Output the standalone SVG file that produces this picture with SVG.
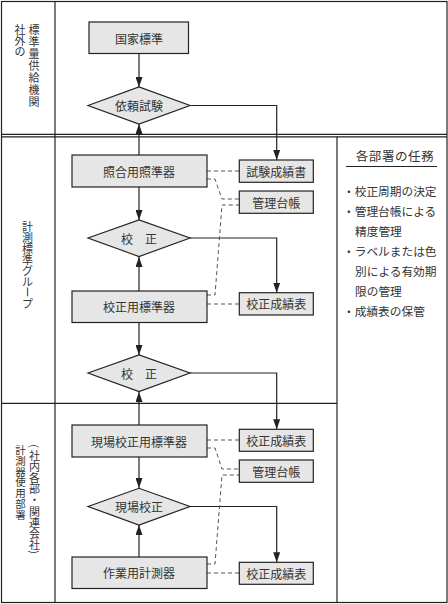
<svg xmlns="http://www.w3.org/2000/svg" width="448" height="604" viewBox="0 0 448 604">
<style>
text{font-family:"Noto Sans CJK JP","Noto Sans CJK SC",sans-serif;fill:#333;}
.frame{fill:none;stroke:#222;stroke-width:1.2;}
.box{fill:#e6e6e6;stroke:#222;stroke-width:1.2;}
.lbl{font-size:12px;text-anchor:middle;dominant-baseline:central;}
.side{font-size:11px;text-anchor:middle;dominant-baseline:central;}
.note{font-size:11.7px;dominant-baseline:central;}
.flow{fill:none;stroke:#222;stroke-width:1.2;}
.dash{fill:none;stroke:#555;stroke-width:1;stroke-dasharray:4 3;}
</style>
<defs>
<marker id="ah" markerUnits="userSpaceOnUse" markerWidth="10" markerHeight="7" refX="10" refY="3.5" orient="auto">
<path d="M0,0 L10,3.5 L0,7 z" fill="#222"/>
</marker>
</defs>
<g id="frame">
<rect class="frame" x="1.5" y="1.5" width="445.5" height="601"/>
<line class="frame" x1="55" y1="1.5" x2="55" y2="602.5"/>
<line class="frame" x1="1.5" y1="134.3" x2="447" y2="134.3"/>
<line class="frame" x1="1.5" y1="136.8" x2="447" y2="136.8"/>
<line class="frame" x1="1.5" y1="403.3" x2="337" y2="403.3"/>
<line class="frame" x1="337" y1="136.8" x2="337" y2="602.5"/>
</g>
<g id="lane-labels">
<text class="side"><tspan x="20" y="28.9">社</tspan><tspan x="20" y="40">外</tspan><tspan x="20" y="51.1">の</tspan></text>
<text class="side"><tspan x="34" y="29.3">標</tspan><tspan x="34" y="41.2">準</tspan><tspan x="34" y="53.1">量</tspan><tspan x="34" y="65">供</tspan><tspan x="34" y="76.9">給</tspan><tspan x="34" y="88.8">機</tspan><tspan x="34" y="100.7">関</tspan></text>
<text class="side"><tspan x="27.5" y="225.5">計</tspan><tspan x="27.5" y="236.6">測</tspan><tspan x="27.5" y="247.7">標</tspan><tspan x="27.5" y="258.8">準</tspan><tspan x="27.5" y="269.9">グ</tspan><tspan x="27.5" y="281">ル</tspan></text>
<text class="side" x="27.5" y="292.1" transform="rotate(90 27.5 292.1)">ー</text>
<text class="side"><tspan x="27.5" y="303.2">プ</tspan></text>
<text class="side" style="font-size:10.5px"><tspan x="20.5" y="449.3">計</tspan><tspan x="20.5" y="460">測</tspan><tspan x="20.5" y="470.7">器</tspan><tspan x="20.5" y="481.4">使</tspan><tspan x="20.5" y="492.1">用</tspan><tspan x="20.5" y="502.8">部</tspan><tspan x="20.5" y="513.5">署</tspan></text>
<text class="side" x="34.5" y="446" transform="rotate(90 34.5 446)">(</text>
<text class="side"><tspan x="34.5" y="454.6">社</tspan><tspan x="34.5" y="465.8">内</tspan><tspan x="34.5" y="477">各</tspan><tspan x="34.5" y="488.2">部</tspan><tspan x="34.5" y="499.4">・</tspan><tspan x="34.5" y="510.6">関</tspan><tspan x="34.5" y="521.8">連</tspan><tspan x="34.5" y="533">会</tspan><tspan x="34.5" y="544.2">社</tspan></text>
<text class="side" x="34.5" y="552" transform="rotate(90 34.5 552)">)</text>
</g>
<g id="connectors">
<line class="flow" x1="139" y1="54" x2="139" y2="87" marker-end="url(#ah)"/>
<line class="flow" x1="139" y1="155" x2="139" y2="124" marker-end="url(#ah)"/>
<path class="flow" d="M190,105.5 H276.7 V160" marker-end="url(#ah)"/>
<line class="flow" x1="139" y1="187" x2="139" y2="220" marker-end="url(#ah)"/>
<line class="flow" x1="139" y1="291" x2="139" y2="257" marker-end="url(#ah)"/>
<path class="flow" d="M190,238 H276.7 V292.7" marker-end="url(#ah)"/>
<line class="flow" x1="139" y1="322" x2="139" y2="355" marker-end="url(#ah)"/>
<line class="flow" x1="139" y1="425" x2="139" y2="392" marker-end="url(#ah)"/>
<path class="flow" d="M190,373 H276.7 V429.3" marker-end="url(#ah)"/>
<line class="flow" x1="139" y1="457" x2="139" y2="488" marker-end="url(#ah)"/>
<line class="flow" x1="139" y1="557" x2="139" y2="525" marker-end="url(#ah)"/>
<path class="flow" d="M190,506.5 H276.7 V562.3" marker-end="url(#ah)"/>
<path class="dash" d="M207,171 H239"/>
<path class="dash" d="M207,179 H215 L222,199 H239"/>
<path class="dash" d="M207,295 H215 L222,205 H239"/>
<path class="dash" d="M207,304 H239"/>
<path class="dash" d="M207,440 H239"/>
<path class="dash" d="M207,448 H215 L222,469 H239"/>
<path class="dash" d="M207,564 H215 L222,475 H239"/>
<path class="dash" d="M207,573 H239"/>
</g>
<g id="n-kokka">
<rect class="box" x="89" y="22" width="99.5" height="31.5"/>
<text class="lbl" x="139" y="38">国家標準</text>
</g>
<g id="n-irai">
<polygon class="box" points="88,105.5 139,87 190,105.5 139,124"/>
<text class="lbl" x="139" y="105.5">依頼試験</text>
</g>
<g id="n-shogo">
<rect class="box" x="72" y="155" width="135" height="32"/>
<text class="lbl" x="139" y="171">照合用照準器</text>
</g>
<g id="n-kosei1">
<polygon class="box" points="88,238 139,220 190,238 139,256.5"/>
<text class="lbl" x="139" y="238">校　正</text>
</g>
<g id="n-koseiyo">
<rect class="box" x="72" y="291" width="135" height="31.5"/>
<text class="lbl" x="139" y="306.5">校正用標準器</text>
</g>
<g id="n-kosei2">
<polygon class="box" points="88,373 139,355 190,373 139,391.5"/>
<text class="lbl" x="139" y="373">校　正</text>
</g>
<g id="n-genba-std">
<rect class="box" x="72" y="425" width="135" height="32"/>
<text class="lbl" x="139" y="441">現場校正用標準器</text>
</g>
<g id="n-genba-kosei">
<polygon class="box" points="88,506.5 139,488.3 190,506.5 139,525"/>
<text class="lbl" x="139" y="506.5">現場校正</text>
</g>
<g id="n-sagyo">
<rect class="box" x="72" y="557" width="135" height="31.5"/>
<text class="lbl" x="139" y="572.5">作業用計測器</text>
</g>
<g id="r-shiken">
<rect class="box" x="239.3" y="160" width="74" height="22.3"/>
<text class="lbl" x="276.3" y="171.2">試験成績書</text>
</g>
<g id="r-daicho1">
<rect class="box" x="239.3" y="191" width="74" height="22.3"/>
<text class="lbl" x="276.3" y="202.2">管理台帳</text>
</g>
<g id="r-seiseki1">
<rect class="box" x="239.3" y="292.7" width="74" height="22.3"/>
<text class="lbl" x="276.3" y="303.9">校正成績表</text>
</g>
<g id="r-seiseki2">
<rect class="box" x="239.3" y="429.3" width="74" height="22"/>
<text class="lbl" x="276.3" y="440.3">校正成績表</text>
</g>
<g id="r-daicho2">
<rect class="box" x="239.3" y="460" width="74" height="22.3"/>
<text class="lbl" x="276.3" y="471.2">管理台帳</text>
</g>
<g id="r-seiseki3">
<rect class="box" x="239.3" y="562.3" width="74" height="22"/>
<text class="lbl" x="276.3" y="573.3">校正成績表</text>
</g>
<g id="duties">
<text x="395" y="155" style="font-size:12.5px;text-anchor:middle;dominant-baseline:central;letter-spacing:0.6px">各部署の任務</text>
<line x1="346" y1="166.5" x2="437" y2="166.5" stroke="#222" stroke-width="1"/>
<text class="note" x="343" y="190">・校正周期の決定</text>
<text class="note" x="343" y="210">・管理台帳による</text>
<text class="note" x="355" y="230">精度管理</text>
<text class="note" x="343" y="250">・ラベルまたは色</text>
<text class="note" x="355" y="270">別による有効期</text>
<text class="note" x="355" y="290">限の管理</text>
<text class="note" x="343" y="310">・成績表の保管</text>
</g>
</svg>
